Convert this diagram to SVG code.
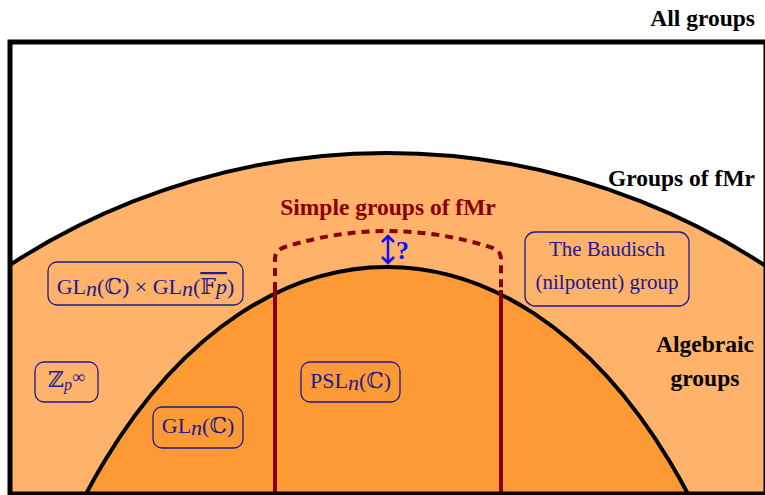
<svg xmlns="http://www.w3.org/2000/svg" width="765" height="495" viewBox="0 0 765 495">
<style>
.lbl{font-family:"Liberation Serif","DejaVu Serif",serif;font-weight:bold;font-size:23.5px;fill:#000}
.box{fill:none;stroke:#1c1c8c;stroke-width:1.3}
.bt{font-family:"Liberation Serif","DejaVu Serif",serif;font-size:21px;fill:#1c1c8c}
.mt{font-family:"Liberation Serif","DejaVu Serif",serif;font-size:22px;fill:#1c1c8c}
.it{font-style:italic}
.red{stroke:#8a0000;stroke-width:4;fill:none}
</style>
<defs>
<clipPath id="frame"><rect x="10" y="42" width="756" height="452"/></clipPath>
</defs>
<rect x="0" y="0" width="765" height="495" fill="#fff"/>
<g id="regions" clip-path="url(#frame)">
<circle cx="387" cy="843" r="690" fill="#feb26a" stroke="#000" stroke-width="4"/>
<ellipse cx="387" cy="932" rx="400" ry="665" fill="#fe9a36" stroke="#000" stroke-width="4"/>
</g>
<g id="connectors">
<path class="red" d="M275,290 L275,495 M501,290 L501,495"/>
<path class="red" stroke-dasharray="8,6" d="M275,290 L275,259 Q275,250 285,247 Q387,215 490,247 Q501,250 501,259 L501,290"/>
<path d="M388,237 L388,262 M382,242 L388,236 L394,242 M382,257 L388,263 L394,257" fill="none" stroke="#1010ff" stroke-width="2.5"/>
<text x="396" y="259" font-family="Liberation Serif, serif" font-weight="bold" font-size="26" fill="#1010ff">?</text>
</g>
<rect id="all-groups-frame" x="10" y="42" width="756" height="452" fill="none" stroke="#000" stroke-width="5"/>
<g id="all-groups"><text class="lbl" x="755" y="26" text-anchor="end">All groups</text></g>
<g id="fmr"><text class="lbl" x="755" y="186" text-anchor="end">Groups of fMr</text></g>
<g id="algebraic"><text class="lbl" x="705" y="352" text-anchor="middle">Algebraic</text><text class="lbl" x="705" y="386" text-anchor="middle">groups</text></g>
<g id="simple"><text class="lbl" x="388" y="215" text-anchor="middle" style="fill:#8a0000">Simple groups of fMr</text></g>
<g id="gl-product">
<rect class="box" x="48" y="262" width="195" height="43" rx="9"/>
<text class="mt" x="145.5" y="294" text-anchor="middle">GL<tspan class="it" dy="2">n</tspan><tspan dy="-2">(ℂ) × GL</tspan><tspan class="it" dy="2">n</tspan><tspan dy="-2">(</tspan><tspan text-decoration="overline">𝔽<tspan class="it">p</tspan></tspan>)</text>
</g>
<g id="baudisch">
<rect class="box" x="525" y="232" width="164" height="74" rx="10"/>
<text class="bt" x="607" y="256" text-anchor="middle">The Baudisch</text>
<text class="bt" x="607" y="289" text-anchor="middle">(nilpotent) group</text>
</g>
<g id="zp">
<rect class="box" x="35" y="362" width="63" height="40" rx="9"/>
<text class="mt" x="66.5" y="387" text-anchor="middle">ℤ<tspan class="it" font-size="16" dy="3">p</tspan><tspan dy="-7" font-size="18">∞</tspan></text>
</g>
<g id="psl">
<rect class="box" x="301" y="362" width="99" height="40" rx="9"/>
<text class="mt" x="350.5" y="388" text-anchor="middle">PSL<tspan class="it" dy="2">n</tspan><tspan dy="-2">(ℂ)</tspan></text>
</g>
<g id="gl">
<rect class="box" x="153" y="407" width="90" height="41" rx="9"/>
<text class="mt" x="198" y="433" text-anchor="middle">GL<tspan class="it" dy="2">n</tspan><tspan dy="-2">(ℂ)</tspan></text>
</g>
</svg>
